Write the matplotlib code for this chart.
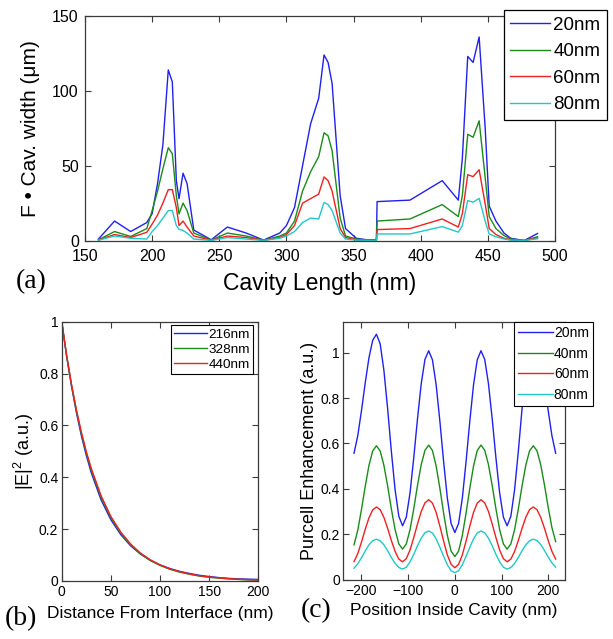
import matplotlib
matplotlib.use("Agg")
import matplotlib.pyplot as plt

plt.rcParams['font.family'] = ['Liberation Sans', 'DejaVu Sans']
plt.rcParams['mathtext.fontset'] = 'custom'
plt.rcParams['mathtext.rm'] = 'Liberation Sans'
plt.rcParams['mathtext.it'] = 'Liberation Sans'

# ---------------- Panel (a) data ----------------
cav_len = [160, 172, 184, 196, 200, 204, 208, 212, 215, 218, 220, 223, 226, 231,
           244, 256, 270, 283, 295, 300, 306, 312, 318, 324, 328, 331, 334, 340,
           344, 352, 360, 367, 367.5, 392, 416, 428, 431, 435, 439, 443.5, 448,
           451, 456, 462, 467, 477, 487]
a_20 = [1, 13, 6, 12, 18, 38, 64, 114, 106, 40, 28, 45, 38, 7,
        0.5, 9, 5, 0.3, 5, 10, 22, 50, 78, 95, 124, 119, 105, 30,
        8, 1.5, 0.5, 0.5, 26, 27, 40, 27, 55, 123, 119, 136, 75,
        23, 13, 5, 1.5, 0, 4.7]
a_40 = [0.5, 6, 2.7, 8, 20, 33, 48, 62, 58, 30, 17.8, 25, 20, 5,
        0.3, 5, 3, 0.2, 3, 5, 13, 33, 46, 56, 72, 70, 60, 15,
        3, 1, 0.3, 0.3, 13, 14.4, 24, 16, 30, 71, 69, 80, 42,
        16, 8, 3.3, 1, 0, 2.5]
a_60 = [0.3, 4, 2, 5.5, 11, 17, 25, 34, 34, 22, 10, 13, 9, 3,
        0.2, 3, 2, 0.1, 2, 4, 10, 25, 28, 31, 42.5, 40, 33, 8,
        2, 0.5, 0.2, 0.2, 7.3, 8, 14.4, 9, 18, 44, 42.7, 47.3, 24.4,
        8, 4, 1.5, 0.5, 0, 1.8]
a_80 = [0.2, 3, 1.5, 1, 6, 10, 15, 20, 20, 10, 7.5, 6.7, 5, 1,
        0.1, 2, 1, 0.1, 1.5, 3, 6, 12, 15, 14.4, 25.5, 24, 20, 5,
        1, 0.3, 0.1, 0.1, 4.4, 4.4, 9.3, 5.6, 10, 26.7, 25.6, 28.2, 13,
        4.4, 2.5, 1, 0.3, 0, 1.2]
a_labels = ['20nm', '40nm', '60nm', '80nm']

# ---------------- Panel (b) data ----------------
dist = [0, 5, 10, 15, 20, 25, 30, 40, 50, 60, 70, 80, 90, 100, 110, 120,
        130, 140, 150, 160, 170, 180, 190, 200]
b_216 = [1.0, 0.866, 0.750, 0.648, 0.560, 0.484, 0.418, 0.313, 0.236, 0.179,
         0.136, 0.104, 0.080, 0.062, 0.048, 0.037, 0.029, 0.022, 0.017, 0.013,
         0.010, 0.008, 0.007, 0.006]
b_328 = [1.0, 0.868, 0.754, 0.655, 0.568, 0.493, 0.428, 0.323, 0.244, 0.184,
         0.139, 0.105, 0.079, 0.060, 0.045, 0.034, 0.026, 0.019, 0.014, 0.011,
         0.008, 0.006, 0.004, 0.003]
b_440 = [1.0, 0.870, 0.757, 0.659, 0.574, 0.499, 0.435, 0.329, 0.249, 0.189,
         0.143, 0.108, 0.082, 0.062, 0.047, 0.036, 0.027, 0.020, 0.0155, 0.0118,
         0.0089, 0.0067, 0.0051, 0.0039]
b_labels = ['216nm', '328nm', '440nm']

# ---------------- Panel (c) data ----------------
pos = [-216, -208, -200, -192, -184, -176, -168, -160, -152, -144, -136, -128,
       -120, -112, -104, -96, -88, -80, -72, -64, -56, -48, -40, -32, -24, -16,
       -8, 0, 8, 16, 24, 32, 40, 48, 56, 64, 72, 80, 88, 96, 104, 112, 120,
       128, 136, 144, 152, 160, 168, 176, 184, 192, 200, 208, 216]
c_20 = [0.557, 0.634, 0.745, 0.867, 0.978, 1.055, 1.082, 1.040, 0.923, 0.754,
        0.565, 0.396, 0.279, 0.237, 0.275, 0.382, 0.537, 0.709, 0.864, 0.971,
        1.009, 0.969, 0.858, 0.697, 0.519, 0.358, 0.247, 0.207, 0.247, 0.358,
        0.519, 0.697, 0.858, 0.969, 1.009, 0.971, 0.864, 0.709, 0.537, 0.382,
        0.275, 0.237, 0.279, 0.396, 0.565, 0.754, 0.923, 1.040, 1.082, 1.055,
        0.978, 0.867, 0.745, 0.634, 0.557]
c_40 = [0.153, 0.217, 0.309, 0.411, 0.503, 0.567, 0.590, 0.567, 0.504, 0.413,
        0.311, 0.220, 0.157, 0.134, 0.157, 0.220, 0.312, 0.415, 0.507, 0.570,
        0.593, 0.569, 0.500, 0.402, 0.292, 0.194, 0.125, 0.101, 0.125, 0.194,
        0.292, 0.402, 0.500, 0.569, 0.593, 0.570, 0.507, 0.415, 0.312, 0.220,
        0.157, 0.134, 0.157, 0.220, 0.311, 0.413, 0.504, 0.567, 0.590, 0.568,
        0.506, 0.417, 0.318, 0.229, 0.167]
c_60 = [0.079, 0.114, 0.165, 0.221, 0.272, 0.307, 0.320, 0.308, 0.274, 0.226,
        0.172, 0.124, 0.090, 0.078, 0.092, 0.130, 0.185, 0.245, 0.300, 0.338,
        0.352, 0.337, 0.296, 0.235, 0.169, 0.108, 0.067, 0.052, 0.067, 0.108,
        0.169, 0.235, 0.296, 0.337, 0.352, 0.338, 0.300, 0.245, 0.185, 0.130,
        0.092, 0.078, 0.090, 0.124, 0.172, 0.226, 0.274, 0.308, 0.320, 0.308,
        0.274, 0.226, 0.172, 0.124, 0.090]
c_80 = [0.050, 0.069, 0.096, 0.126, 0.153, 0.171, 0.178, 0.171, 0.153, 0.127,
        0.097, 0.071, 0.053, 0.046, 0.054, 0.078, 0.111, 0.149, 0.182, 0.206,
        0.214, 0.205, 0.179, 0.142, 0.102, 0.065, 0.039, 0.030, 0.039, 0.065,
        0.102, 0.142, 0.179, 0.205, 0.214, 0.206, 0.182, 0.149, 0.111, 0.078,
        0.054, 0.046, 0.053, 0.071, 0.097, 0.127, 0.153, 0.171, 0.178, 0.172,
        0.154, 0.128, 0.099, 0.073, 0.055]
c_labels = ['20nm', '40nm', '60nm', '80nm']

colors4 = ['#2020f0', '#1a8c1a', '#f02020', '#20c8c8']
colors3 = ['#2020f0', '#1a8c1a', '#f02020']
spine_col = '#3a3a3a'


def style_axes(ax, fs, xpad, ypad):
    for s in ax.spines.values():
        s.set_color(spine_col)
        s.set_linewidth(0.9)
    ax.tick_params(direction='in', top=True, right=True, length=4, width=0.8,
                   colors=spine_col, labelcolor='black', labelsize=fs)
    ax.tick_params(axis='x', pad=xpad)
    ax.tick_params(axis='y', pad=ypad)


fig = plt.figure(figsize=(6.13, 6.39), dpi=100)

# ---------------- (a) ----------------
axa = fig.add_axes([0.1387, 0.6236, 0.7667, 0.3513])
for ys, col, lab in zip([a_20, a_40, a_60, a_80], colors4, a_labels):
    axa.plot(cav_len, ys, color=col, lw=1.0, label=lab)
axa.set_xlim(150, 500)
axa.set_ylim(0, 150)
axa.set_xticks([150, 200, 250, 300, 350, 400, 450, 500])
axa.set_yticks([0, 50, 100, 150])
style_axes(axa, 11.5, 6, 4.5)
axa.set_xlabel('Cavity Length (nm)', fontsize=16.5, labelpad=6)
axa.set_ylabel('F \u2022 Cav. width (\u03bcm)', fontsize=15, labelpad=9)
lga = axa.legend(loc='upper left', bbox_to_anchor=(0.891, 1.027), borderaxespad=0,
                 fontsize=13.5, handlelength=2.1, labelspacing=0.5, handletextpad=0.2,
                 fancybox=False, framealpha=1, edgecolor='black', borderpad=0.35)
lga.get_frame().set_linewidth(0.9)
fig.text(0.025, 0.56, '(a)', family='Liberation Serif', fontsize=20, va='center')

# ---------------- (b) ----------------
axb = fig.add_axes([0.1007, 0.0908, 0.3207, 0.4058])
for ys, col, lab in zip([b_216, b_328, b_440], colors3, b_labels):
    axb.plot(dist, ys, color=col, lw=1.0, label=lab)
axb.set_xlim(0, 200)
axb.set_ylim(0, 1)
axb.set_xticks([0, 50, 100, 150, 200])
axb.set_yticks([0, 0.2, 0.4, 0.6, 0.8, 1])
axb.set_yticklabels(['0', '0.2', '0.4', '0.6', '0.8', '1'])
style_axes(axb, 10, 3, 2.5)
axb.set_xlabel('Distance From Interface (nm)', fontsize=12.5, labelpad=5)
axb.set_ylabel('|E|$^2$ (a.u.)', fontsize=13, labelpad=2)
lgb = axb.legend(loc='upper right', bbox_to_anchor=(0.9746, 0.987), borderaxespad=0,
                 fontsize=9.7, handlelength=2.45, labelspacing=0.18, handletextpad=0.1,
                 fancybox=False, framealpha=1, edgecolor='black', borderpad=0.25)
lgb.get_frame().set_linewidth(0.8)
fig.text(0.008, 0.032, '(b)', family='Liberation Serif', fontsize=20, va='center')

# ---------------- (c) ----------------
axc = fig.add_axes([0.560, 0.0931, 0.3617, 0.4034])
for ys, col, lab in zip([c_20, c_40, c_60, c_80], colors4, c_labels):
    axc.plot(pos, ys, color=col, lw=1.0, label=lab)
axc.set_xlim(-239, 236)
axc.set_ylim(0, 1.137)
axc.set_xticks([-200, -100, 0, 100, 200])
axc.set_yticks([0, 0.2, 0.4, 0.6, 0.8, 1])
axc.set_yticklabels(['0', '0.2', '0.4', '0.6', '0.8', '1'])
style_axes(axc, 10, 3, 2.5)
axc.set_xlabel('Position Inside Cavity (nm)', fontsize=12.5, labelpad=4)
axc.set_ylabel('Purcell Enhancement (a.u.)', fontsize=13, labelpad=2)
lgc = axc.legend(loc='upper left', bbox_to_anchor=(0.771, 1.0), borderaxespad=0,
                 fontsize=10, handlelength=2.5, labelspacing=0.48, handletextpad=0.05,
                 fancybox=False, framealpha=1, edgecolor='black', borderpad=0.3)
lgc.get_frame().set_linewidth(0.8)
fig.text(0.49, 0.045, '(c)', family='Liberation Serif', fontsize=20, va='center')

fig.savefig('out.png', dpi=100)
